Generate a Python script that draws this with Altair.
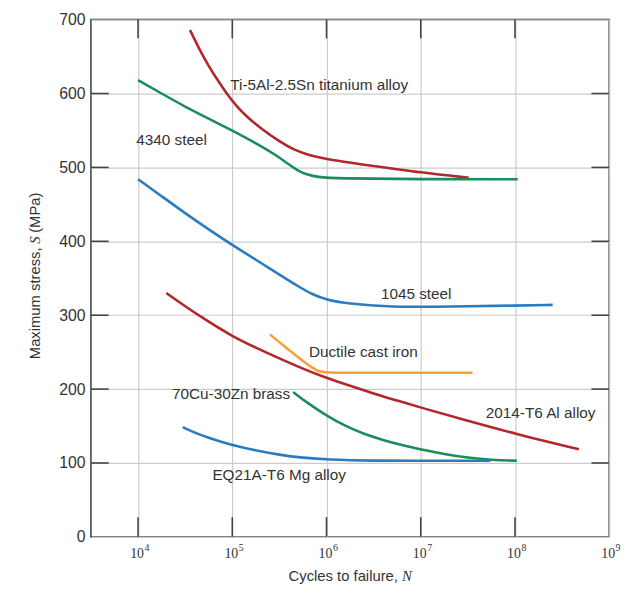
import altair as alt
import pandas as pd

# ---------------- data (log10 of cycles, stress in MPa) ----------------
materials = [
    "Ti-5Al-2.5Sn titanium alloy",
    "4340 steel",
    "1045 steel",
    "Ductile cast iron",
    "70Cu-30Zn brass",
    "2014-T6 Al alloy",
    "EQ21A-T6 Mg alloy",
]

ti_logn = [4.551, 4.65, 4.75, 4.85, 4.95, 5.05, 5.15, 5.3, 5.5, 5.65, 5.8, 6.0, 6.5, 7.0, 7.51]
ti_s = [686, 660, 637, 617, 598, 582, 569, 553, 535, 524, 517, 511, 502, 493, 486]

s4340_logn = [4.0, 4.25, 4.5, 4.75, 5.0, 5.25, 5.45, 5.6, 5.7, 5.8, 5.9, 6.1, 7.0, 8.03]
s4340_s = [618, 600, 582, 566, 550, 533, 518, 504, 495, 490, 487, 485, 484, 484]

s1045_logn = [4.0, 4.25, 4.5, 4.75, 5.0, 5.25, 5.5, 5.7, 5.85, 6.0, 6.2, 6.6, 7.0, 7.5, 8.0, 8.4]
s1045_s = [484, 461, 438, 416, 395, 375, 355, 339, 328, 321, 316, 312, 311, 312, 313, 314]

iron_logn = [5.40, 5.55, 5.68, 5.80, 5.90, 5.96, 6.5, 7.0, 7.55]
iron_s = [274, 258, 245, 233, 225, 222, 222, 222, 222]

brass_logn = [5.646, 5.8, 6.0, 6.2, 6.4, 6.6, 6.8, 7.0, 7.25, 7.5, 7.75, 8.02]
brass_s = [196, 181, 164, 150, 139, 131, 124, 118.5, 112, 107, 104, 103]

al_logn = [4.30, 4.5, 4.75, 5.0, 5.25, 5.5, 5.75, 6.0, 6.25, 6.5, 6.75, 7.0, 7.5, 8.0, 8.678]
al_s = [330, 312, 291, 271.5, 256, 241.5, 227.5, 215, 204.5, 194, 184.5, 175, 157, 139.5, 118.6]

mg_logn = [4.475, 4.6, 4.75, 4.9, 5.05, 5.25, 5.5, 5.75, 6.0, 6.5, 7.0, 7.74]
mg_s = [148.5, 141, 134, 128, 122.5, 117, 111, 107, 104.5, 103, 103, 103]

colors = ["#b3262c", "#1b8d5d", "#2a7cc0", "#f4a13a", "#1b8d5d", "#b3262c", "#2a7cc0"]

# annotation anchors (log10 N, S) for the curve labels
label_logn = [4.978, 3.982, 6.577, 5.813, 4.36, 7.69, 4.789]
label_s = [612, 537, 329, 250, 193, 167.6, 83]

x_label_exps = [4, 5, 6, 7, 8, 9]
x_tick_exps = [4, 5, 6, 7, 8]
y_label_values = [0, 100, 200, 300, 400, 500, 600, 700]
y_tick_values = [100, 200, 300, 400, 500, 600]

# ---------------- build tables ----------------
series = [
    (materials[0], ti_logn, ti_s),
    (materials[1], s4340_logn, s4340_s),
    (materials[2], s1045_logn, s1045_s),
    (materials[3], iron_logn, iron_s),
    (materials[4], brass_logn, brass_s),
    (materials[5], al_logn, al_s),
    (materials[6], mg_logn, mg_s),
]
rows = []
for name, ln, ss in series:
    for i, (a, b) in enumerate(zip(ln, ss)):
        rows.append({"material": name, "N": 10 ** a, "S": b, "order": i})
df = pd.DataFrame(rows)

labels_df = pd.DataFrame({
    "material": materials,
    "N": [10 ** v for v in label_logn],
    "S": label_s,
})
xl_df = pd.DataFrame({
    "N": [10 ** e for e in x_label_exps],
    "base": ["10"] * len(x_label_exps),
    "exp": [str(e) for e in x_label_exps],
})
xt_df = pd.DataFrame({"N": [10 ** e for e in x_tick_exps]})
yt_df = pd.DataFrame({"S": y_tick_values})
one = pd.DataFrame({"k": [0]})

W, H = 525, 524
FONT = "Liberation Sans"
SERIF = "Liberation Serif"
TXT = "#333333"

xscale = alt.Scale(type="log", domain=[10 ** 3.5, 10 ** 9], nice=False)
yscale = alt.Scale(domain=[0, 700], nice=False)

x_axis = alt.Axis(
    values=[10 ** e for e in x_label_exps],
    labels=False, ticks=False, tickSize=0, domain=False,
    grid=True, gridColor="#cccccc", gridWidth=1.2, title=None,
)
y_axis = alt.Axis(
    values=y_label_values,
    labelFont=FONT, labelFontSize=16, labelColor=TXT, labelPadding=6,
    ticks=False, tickSize=0, domain=False,
    grid=True, gridColor="#cccccc", gridWidth=1.2, title=None,
)
X = alt.X("N:Q", scale=xscale, axis=x_axis)
Y = alt.Y("S:Q", scale=yscale, axis=y_axis)

lines = alt.Chart(df).mark_line(strokeWidth=2.6, interpolate="basis").encode(
    x=X,
    y=Y,
    color=alt.Color("material:N", scale=alt.Scale(domain=materials, range=colors), legend=None),
    detail="material:N",
    order="order:Q",
)

texts = alt.Chart(labels_df).mark_text(
    align="left", baseline="middle", font=FONT, fontSize=15.5, color=TXT
).encode(x=X, y=Y, text="material:N")

# x tick labels as 10 with a raised exponent
xl_base = alt.Chart(xl_df).mark_text(
    align="right", baseline="middle", font=SERIF, fontSize=14, color=TXT, dx=6
).encode(x=X, y=alt.value(H + 17), text="base:N")
xl_exp = alt.Chart(xl_df).mark_text(
    align="left", baseline="middle", font=SERIF, fontSize=10, color=TXT, dx=6.5
).encode(x=X, y=alt.value(H + 11), text="exp:N")

tick_color = "#444444"
xt_bottom = alt.Chart(xt_df).mark_rule(color=tick_color, strokeWidth=1.6).encode(
    x=X, y=alt.value(H), y2=alt.value(H - 20)
)
xt_top = alt.Chart(xt_df).mark_rule(color=tick_color, strokeWidth=1.6).encode(
    x=X, y=alt.value(0), y2=alt.value(19)
)
yt_left = alt.Chart(yt_df).mark_rule(color=tick_color, strokeWidth=1.6).encode(
    y=Y, x=alt.value(0), x2=alt.value(18)
)
yt_right = alt.Chart(yt_df).mark_rule(color=tick_color, strokeWidth=1.6).encode(
    y=Y, x=alt.value(W - 18), x2=alt.value(W)
)

# axis titles with italic serif symbols
def title_piece(text, x, y, font, style="normal", align="left", angle=0):
    return alt.Chart(one).mark_text(
        text=text, font=font, fontSize=15, fontStyle=style, color=TXT,
        align=align, baseline="middle", angle=angle,
    ).encode(x=alt.value(x), y=alt.value(y))

xt1 = title_piece("Cycles to failure,", 311, H + 40, FONT, align="right")
xt2 = title_piece("N", 315, H + 40, SERIF, style="italic")
yt1 = title_piece("Maximum stress,", -57, 344, FONT, angle=270)
yt2 = title_piece("S", -57, 227, SERIF, style="italic", angle=270)
yt3 = title_piece("(MPa)", -57, 216, FONT, angle=270)

chart = alt.layer(
    lines, xt_bottom, xt_top, yt_left, yt_right, texts, xl_base, xl_exp,
    xt1, xt2, yt1, yt2, yt3,
).properties(
    width=W, height=H,
    autosize=alt.AutoSizeParams(type="none"),
    padding={"left": 84, "top": 8, "right": 16, "bottom": 47},
    background="white",
).configure_view(
    stroke="#3a3a3a", strokeWidth=1.5
)

chart.save("out.html", embed_options={"renderer": "svg", "actions": False})
